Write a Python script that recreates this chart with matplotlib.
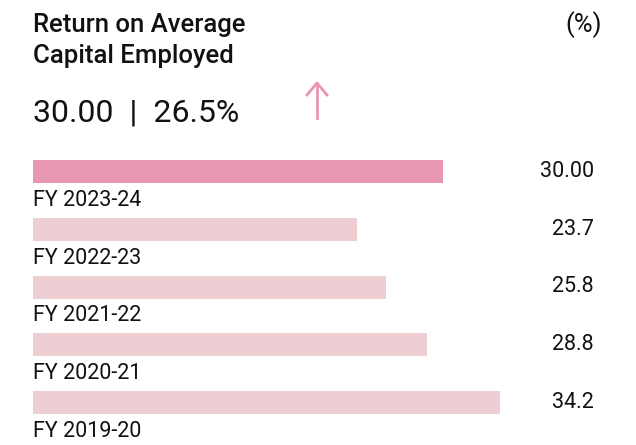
import matplotlib.pyplot as plt
import matplotlib.transforms as mtransforms

# datos del grafico
years = ['FY 2023-24', 'FY 2022-23', 'FY 2021-22', 'FY 2020-21', 'FY 2019-20']
values = [30.00, 23.7, 25.8, 28.8, 34.2]
value_labels = ['30.00', '23.7', '25.8', '28.8', '34.2']
headline = '30.00  |  26.5%'

plt.rcParams['font.family'] = ['Roboto', 'DejaVu Sans']

W, H = 636, 445
fig = plt.figure(figsize=(W / 100, H / 100), dpi=100)

# ejes de las barras (0 en x=33 px, 30 -> 410 px)
px_per_unit = 410 / 30
left_px = 33
width_px = W - left_px
ax = fig.add_axes([left_px / W, 0, width_px / W, 305 / H])
ax.set_xlim(0, width_px / px_per_unit)
step = 57.75
ax.set_ylim((445 - 171.5) / step, -(171.5 - 140) / step)
ax.axis('off')

colors = ['#E897B1'] + ['#EDCFD3'] * (len(values) - 1)
ax.barh(range(len(values)), values, height=23 / step, color=colors, left=0)

trans = mtransforms.blended_transform_factory(fig.transFigure, ax.transData)
for i, (yr, lab) in enumerate(zip(years, value_labels)):
    ax.text(0, i + 0.5, yr, fontsize=15.5, va='center', ha='left', color='#111111')
    ax.text(594 / W, i, lab, transform=trans, fontsize=15.5, va='center',
            ha='right', color='#111111')

# titulos
fig.text(33 / W, 1 - 32 / H, 'Return on Average', fontsize=18.5, va='baseline',
         ha='left', color='#111111', fontweight='medium')
fig.text(33 / W, 1 - 63 / H, 'Capital Employed', fontsize=18.5, va='baseline',
         ha='left', color='#111111', fontweight='medium')
fig.text(602 / W, 1 - 32 / H, '(%)', fontsize=18.5, va='baseline', ha='right',
         color='#111111')
fig.text(33 / W, 1 - 122 / H, headline, fontsize=23, va='baseline', ha='left',
         color='#111111')

# flecha
fig.add_artist(plt.Line2D([317 / W, 317 / W], [1 - 118 / H, 1 - 86 / H],
                          color='#E897B1', lw=2))
fig.add_artist(plt.Line2D([307 / W, 317 / W, 327 / W],
                          [1 - 95 / H, 1 - 83 / H, 1 - 95 / H],
                          color='#E897B1', lw=2))

fig.savefig('out.png', dpi=100, facecolor='white')
